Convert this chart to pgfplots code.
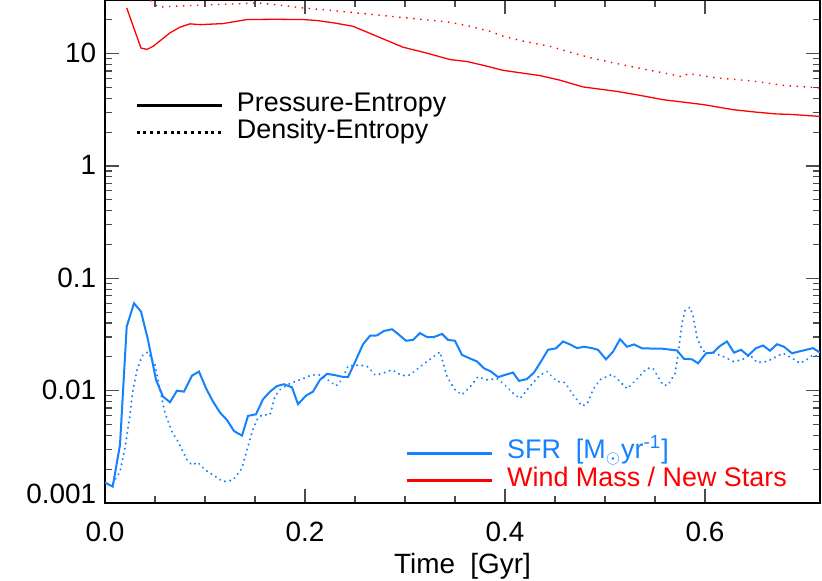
\documentclass[border=0pt]{standalone}
\usepackage{pgfplots}
\pgfplotsset{compat=1.18}
\usepackage{fontspec}
\setmainfont{Liberation Sans}
\definecolor{sfrblue}{RGB}{20,130,255}
\definecolor{windred}{RGB}{255,0,0}

\begin{document}
\begin{tikzpicture}
\begin{axis}[
    name=ax, at={(0,0)}, anchor=south west,
    scale only axis, width=357.5bp, height=251.5bp,
    ymode=log,
    xmin=0, xmax=0.715, ymin=0.001, ymax=30,
    xtick={0,0.2,0.4,0.6}, xticklabels={0.0,0.2,0.4,0.6},
    minor x tick num=3,
    ytick={0.001,0.01,0.1,1,10},
    yticklabels={\raisebox{4.5bp}{0.001},0.01,0.1,1,10},
    minor ytick={0.002,0.003,0.004,0.005,0.006,0.007,0.008,0.009,
                 0.02,0.03,0.04,0.05,0.06,0.07,0.08,0.09,
                 0.2,0.3,0.4,0.5,0.6,0.7,0.8,0.9,
                 2,3,4,5,6,7,8,9,20},
    tick align=inside,
    major tick length=7bp, minor tick length=3.5bp,
    every tick/.style={black!70, line width=0.6bp},
    axis line style={line width=0.8bp},
    tick label style={font=\fontsize{14}{16}\selectfont},
    xticklabel style={anchor=base, inner sep=0pt, yshift=-19bp},
    yticklabel style={anchor=base east, inner sep=0pt, xshift=-4.2bp, yshift=-4.5bp},
    xlabel={Time\ \ [Gyr]},
    xlabel style={at={(axis description cs:0.5,0)}, anchor=base, inner sep=0pt,
                  yshift=-35bp, font=\fontsize{14}{16}\selectfont},
    clip=true,
]
% Wind mass / new stars, pressure-entropy
\addplot[windred, line width=0.65bp] coordinates {
(0.0217,25.5) (0.036,11.2) (0.042,10.9) (0.048,11.6) (0.056,13.2) (0.065,15.3)
(0.075,17.2) (0.085,18.4) (0.095,18.1) (0.118,18.5) (0.142,20.1) (0.17,20.2)
(0.198,20.1) (0.212,19.7) (0.23,18.7) (0.248,17.5) (0.27,14.5) (0.298,11.4)
(0.32,10.2) (0.345,8.85) (0.362,8.5) (0.38,7.8) (0.398,7.1) (0.435,6.37)
(0.455,5.8) (0.478,5.05) (0.512,4.61) (0.535,4.25) (0.558,3.89) (0.598,3.52)
(0.628,3.17) (0.65,3.02) (0.672,2.90) (0.685,2.88) (0.715,2.76)
};
% Wind mass / new stars, density-entropy
\addplot[windred, line width=0.7bp, dash pattern=on 0.7bp off 2.8bp] coordinates {
(0.0217,60) (0.042,31) (0.045,30) (0.052,26.4) (0.055,26) (0.085,26.8)
(0.135,27.8) (0.152,28.3) (0.175,27) (0.198,25.5) (0.225,24.3) (0.252,23)
(0.285,21.5) (0.318,20.1) (0.345,19.0) (0.365,17.5) (0.385,15.8) (0.398,14.3)
(0.42,12.8) (0.445,11.6) (0.465,10.3) (0.485,9.2) (0.505,8.4) (0.525,7.7)
(0.545,7.1) (0.562,6.64) (0.578,6.2) (0.583,6.64) (0.612,6.07) (0.645,5.74)
(0.678,5.22) (0.715,4.94)
};
% SFR, pressure-entropy
\addplot[sfrblue, line width=1bp] coordinates {
(0.0,0.00152) (0.0077,0.0014) (0.015,0.00329) (0.0217,0.0372) (0.029,0.060)
(0.036,0.0506) (0.043,0.0283) (0.051,0.0125) (0.058,0.00886) (0.065,0.00789)
(0.072,0.0100) (0.079,0.0098) (0.087,0.0136) (0.094,0.0148) (0.101,0.0105)
(0.108,0.0080) (0.115,0.00638) (0.122,0.00548) (0.129,0.00437) (0.137,0.00398)
(0.143,0.00596) (0.151,0.00616) (0.158,0.00838) (0.165,0.0098) (0.172,0.0110)
(0.179,0.0114) (0.187,0.0107) (0.193,0.00757) (0.201,0.00903) (0.208,0.0098)
(0.215,0.0125) (0.222,0.0141) (0.229,0.0138) (0.237,0.0133) (0.243,0.0132)
(0.251,0.0188) (0.258,0.0259) (0.265,0.0308) (0.272,0.031) (0.279,0.034)
(0.287,0.0352) (0.293,0.032) (0.301,0.0278) (0.308,0.0283) (0.315,0.0325)
(0.322,0.030) (0.329,0.030) (0.337,0.032) (0.343,0.0283) (0.350,0.0278)
(0.357,0.0208) (0.364,0.0195) (0.372,0.0182) (0.379,0.0158) (0.386,0.0148)
(0.393,0.0132) (0.400,0.0138) (0.408,0.0145) (0.414,0.0122) (0.422,0.0127)
(0.429,0.0145) (0.436,0.0182) (0.443,0.0231) (0.451,0.0238) (0.458,0.0274)
(0.465,0.0258) (0.472,0.0239) (0.479,0.0246) (0.487,0.0239) (0.493,0.0231)
(0.501,0.019) (0.508,0.0222) (0.515,0.0287) (0.522,0.0246) (0.529,0.0258)
(0.537,0.0238) (0.558,0.0236) (0.572,0.0228) (0.579,0.0192) (0.587,0.019)
(0.593,0.0175) (0.601,0.0215) (0.608,0.0218) (0.615,0.025) (0.622,0.0274)
(0.629,0.0218) (0.636,0.0231) (0.643,0.0205) (0.651,0.0239) (0.658,0.0252)
(0.665,0.0227) (0.672,0.0259) (0.679,0.0246) (0.687,0.0215) (0.693,0.0222)
(0.708,0.0239) (0.715,0.0218)
};
% SFR, density-entropy
\addplot[sfrblue, line width=1.1bp, line cap=round, dash pattern=on 0.05bp off 2.6bp] coordinates {
(0.0077,0.0015) (0.015,0.0019) (0.020,0.0031) (0.025,0.0061) (0.028,0.0102)
(0.032,0.0153) (0.037,0.0204) (0.043,0.0221) (0.050,0.0169) (0.053,0.0125)
(0.060,0.0063) (0.067,0.0043) (0.073,0.00352) (0.082,0.00242) (0.087,0.00218)
(0.093,0.0023) (0.100,0.00197) (0.108,0.00178) (0.118,0.00155) (0.128,0.0016)
(0.137,0.00204) (0.142,0.00297) (0.147,0.0043) (0.152,0.0055) (0.157,0.0061)
(0.165,0.0061) (0.170,0.0089) (0.175,0.0102) (0.185,0.0116) (0.195,0.0125)
(0.207,0.0138) (0.215,0.0138) (0.225,0.0121) (0.231,0.011) (0.237,0.0125)
(0.243,0.0166) (0.255,0.0169) (0.263,0.0163) (0.270,0.0138) (0.277,0.0142)
(0.287,0.0153) (0.297,0.0136) (0.305,0.0138) (0.315,0.0163) (0.325,0.0190)
(0.335,0.0221) (0.342,0.0133) (0.350,0.0102) (0.357,0.0092) (0.365,0.0108)
(0.373,0.0133) (0.382,0.0125) (0.392,0.0128) (0.400,0.0112) (0.408,0.0095)
(0.415,0.0085) (0.423,0.0104) (0.435,0.0138) (0.442,0.0148) (0.452,0.0121)
(0.460,0.0118) (0.468,0.0092) (0.477,0.0073) (0.482,0.0076) (0.488,0.0102)
(0.495,0.0125) (0.507,0.014) (0.513,0.0125) (0.522,0.0104) (0.530,0.0122)
(0.542,0.0158) (0.548,0.0158) (0.558,0.0112) (0.563,0.0112) (0.570,0.0142)
(0.573,0.0208) (0.577,0.0399) (0.580,0.0516) (0.585,0.0553) (0.588,0.0465)
(0.592,0.030) (0.597,0.0231) (0.602,0.0215) (0.608,0.0218) (0.618,0.0202)
(0.628,0.0182) (0.637,0.0188) (0.645,0.0208) (0.652,0.0178) (0.662,0.0182)
(0.672,0.0202) (0.678,0.0215) (0.687,0.0195) (0.695,0.0175) (0.703,0.0192)
(0.708,0.0208) (0.715,0.0199)
};
% legends
\draw[black, line width=1.5bp] (rel axis cs:0.0443,0.7893) -- (rel axis cs:0.163,0.7893);
\draw[black, line width=1.5bp, dash pattern=on 1.5bp off 1.9bp] (rel axis cs:0.0443,0.7362) -- (rel axis cs:0.163,0.7362);
\node[anchor=base west, inner sep=0pt, font=\fontsize{13.5}{16}\selectfont] at (rel axis cs:0.184,0.7793) {Pressure-Entropy};
\node[anchor=base west, inner sep=0pt, font=\fontsize{13.5}{16}\selectfont] at (rel axis cs:0.184,0.7256) {Density-Entropy};
\draw[sfrblue, line width=1.5bp] (rel axis cs:0.422,0.0992) -- (rel axis cs:0.541,0.0992);
\draw[windred, line width=1.5bp] (rel axis cs:0.422,0.0443) -- (rel axis cs:0.541,0.0443);
\node[anchor=base west, inner sep=0pt, text=sfrblue, font=\fontsize{13.5}{16}\selectfont] at (rel axis cs:0.562,0.0875) {SFR\ \ [M$_\odot$yr\textsuperscript{-1}]};
\node[anchor=base west, inner sep=0pt, text=windred, font=\fontsize{13.5}{16}\selectfont] at (rel axis cs:0.562,0.0324) {Wind Mass / New Stars};
\end{axis}
\pgfresetboundingbox
\path (-52.5bp,-39bp) rectangle (358.5bp,251.5bp);
\end{tikzpicture}
\end{document}
